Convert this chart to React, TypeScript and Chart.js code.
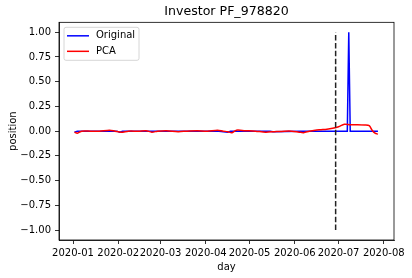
import React, { useEffect, useRef } from "react";
import { Chart, registerables } from "chart.js";

Chart.register(...registerables);

// Days counted from 2020-01-01 (day 0)
const monthTickDays = [0, 31, 60, 91, 121, 152, 182, 213];
const monthTickLabels = ["2020-01", "2020-02", "2020-03", "2020-04", "2020-05", "2020-06", "2020-07", "2020-08"];
const yTickValues = [-1, -0.75, -0.5, -0.25, 0, 0.25, 0.5, 0.75, 1];

const originalDays = [1, 3, 30, 32, 34, 100, 106, 108, 135, 137, 156, 158, 188, 189, 190, 209];
const originalValues = [-0.01, 0, 0, -0.01, 0, 0, -0.01, 0, 0, -0.005, 0, 0, 0, 1.0, 0, 0];

const pcaDays = [1, 3, 6, 12, 18, 25, 29, 33, 38, 45, 50, 54, 58, 64, 72, 78, 85, 92, 99, 103, 106, 109, 112, 118, 125, 132, 138, 145, 150, 155, 158, 162, 166, 170, 174, 178, 182, 186, 190, 195, 200, 203, 205, 207, 209];
const pcaValues = [-0.01, -0.02, 0, 0, 0, 0.01, 0, -0.01, 0, 0, 0.005, -0.01, 0, 0.005, -0.005, 0, 0.005, 0, 0.01, 0, -0.005, -0.015, 0.01, 0.005, 0, -0.01, -0.005, 0, 0, -0.01, -0.015, 0, 0.01, 0.015, 0.02, 0.03, 0.045, 0.07, 0.065, 0.065, 0.062, 0.055, 0.01, -0.02, -0.03];

const vlineDay = [180, 180];
const vlineValues = [-1, 1];

const seriesLabels = ["Original", "PCA"];
const seriesColors = ["#0000ff", "#ff0000"];

const FONT = "'DejaVu Sans', sans-serif";

export default function App() {
  const ref = useRef<HTMLCanvasElement>(null);

  useEffect(() => {
    if (!ref.current) return;

    const framePlugin = {
      id: "frameAndLegend",
      afterDraw(chart: any) {
        const { ctx, chartArea } = chart;
        const { left, top, right, bottom } = chartArea;
        ctx.save();
        ctx.strokeStyle = "#000";
        ctx.lineWidth = 0.8;
        ctx.strokeRect(left, top, right - left, bottom - top);

        // legend
        const bx = left + 5, by = top + 5, bw = 75, bh = 33;
        ctx.fillStyle = "rgba(255,255,255,0.8)";
        ctx.strokeStyle = "#cccccc";
        ctx.lineWidth = 0.8;
        ctx.beginPath();
        (ctx as any).roundRect(bx, by, bw, bh, 2);
        ctx.fill();
        ctx.stroke();
        ctx.font = `10px ${FONT}`;
        ctx.textBaseline = "middle";
        ctx.textAlign = "left";
        for (let i = 0; i < seriesLabels.length; i++) {
          const y = by + 8.5 + i * 15.5;
          ctx.strokeStyle = seriesColors[i];
          ctx.lineWidth = 1.5;
          ctx.beginPath();
          ctx.moveTo(bx + 3, y);
          ctx.lineTo(bx + 25, y);
          ctx.stroke();
          ctx.fillStyle = "#000";
          ctx.fillText(seriesLabels[i], bx + 32, y);
        }
        ctx.restore();
      },
    };

    const chart = new Chart(ref.current, {
      type: "line",
      data: {
        datasets: [
          {
            label: "vline",
            data: vlineDay.map((d, i) => ({ x: d, y: vlineValues[i] })),
            borderColor: "#222",
            borderWidth: 1.5,
            borderDash: [5.5, 2.4],
            pointRadius: 0,
          },
          {
            label: seriesLabels[1],
            data: pcaDays.map((d, i) => ({ x: d, y: pcaValues[i] })),
            borderColor: seriesColors[1],
            borderWidth: 1.5,
            pointRadius: 0,
            tension: 0.3,
          },
          {
            label: seriesLabels[0],
            data: originalDays.map((d, i) => ({ x: d, y: originalValues[i] })),
            borderColor: seriesColors[0],
            borderWidth: 1.5,
            pointRadius: 0,
            tension: 0,
          },
        ],
      },
      options: {
        animation: false,
        responsive: false,
        maintainAspectRatio: false,
        layout: { padding: { left: 0, right: 18, top: 0, bottom: 0 } },
        plugins: {
          legend: { display: false },
          tooltip: { enabled: false },
          title: {
            display: true,
            fullSize: false,
            text: "Investor PF_978820",
            color: "#000",
            font: { family: FONT, size: 12.6, weight: "normal" as any, lineHeight: 1.2 },
            padding: { top: 4.6, bottom: 2.6 },
          },
        },
        scales: {
          x: {
            type: "linear",
            min: -9.6,
            max: 220,
            afterBuildTicks: (scale: any) => {
              scale.ticks = monthTickDays.map((v) => ({ value: v }));
            },
            afterFit: (scale: any) => {
              scale.height = 38;
            },
            ticks: {
              autoSkip: false,
              maxRotation: 0,
              color: "#000",
              padding: 3,
              font: { family: FONT, size: 10 },
              callback: (value: any) => {
                const i = monthTickDays.indexOf(Number(value));
                return i >= 0 ? monthTickLabels[i] : "";
              },
            },
            grid: { drawOnChartArea: false, drawTicks: true, tickLength: 4, color: "#000", lineWidth: 0.8 },
            border: { display: true, color: "#000", width: 0.8 },
            title: {
              display: true,
              text: "day",
              color: "#000",
              font: { family: FONT, size: 10, lineHeight: 1.2 },
              padding: { top: 0, bottom: 5 },
            },
          },
          y: {
            type: "linear",
            min: -1.1,
            max: 1.1,
            afterBuildTicks: (scale: any) => {
              scale.ticks = yTickValues.map((v) => ({ value: v }));
            },
            afterFit: (scale: any) => {
              scale.width = 59;
            },
            ticks: {
              color: "#000",
              padding: 4,
              font: { family: FONT, size: 10 },
              callback: (value: any) => {
                const v = Number(value);
                const s = Math.abs(v).toFixed(2);
                return v < 0 ? "\u2212" + s : s;
              },
            },
            grid: { drawOnChartArea: false, drawTicks: true, tickLength: 4, color: "#000", lineWidth: 0.8 },
            border: { display: true, color: "#000", width: 0.8 },
            title: {
              display: true,
              text: "position",
              color: "#000",
              font: { family: FONT, size: 10, lineHeight: 1.2 },
              padding: { top: 7, bottom: 0 },
            },
          },
        },
      },
      plugins: [framePlugin],
    });

    return () => chart.destroy();
  }, []);

  return (
    <div style={{ position: "absolute", left: 0, top: 0, width: 412, height: 278, background: "#fff" }}>
      <canvas ref={ref} width={412} height={278} />
    </div>
  );
}
